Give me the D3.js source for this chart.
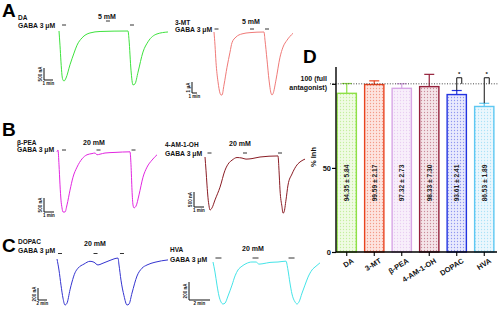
<!DOCTYPE html>
<html><head><meta charset="utf-8">
<script src="https://cdn.jsdelivr.net/npm/d3@7"></script>
<style>body{margin:0;background:#fff} svg{display:block} text{font-family:"Liberation Sans",Arial,sans-serif;fill:#111}</style>
</head><body><svg id="c" width="500" height="310"></svg>
<script>
// ---------- DATA ----------
const compounds = ["DA","3-MT","β-PEA","4-AM-1-OH","DOPAC","HVA"];
const inhMean = [94.35, 99.59, 97.32, 98.33, 93.61, 86.53];
const inhSD   = [5.84, 2.17, 2.73, 7.30, 2.41, 1.89];
const significant = [false,false,false,false,true,true];
const yTicks = [0, 50, 100];
const concLabels = ["5 mM","5 mM","20 mM","20 mM","20 mM","20 mM"];
const scaleBarLabels = ["500 nA","1 μA","500 nA","500 nA","200 nA","200 nA"];
const scaleBarMin = [1,1,1,1,2,2];
// application marks (time, min): GABA on, compound, GABA on
const applyT = [[0.56,5.44,8.11],[0.5,7.6,10.6],[0.7,4.15,7.65],[0.45,4.0,7.5],[0.67,8.56,14.44],[0.52,4.05,7.48]];

// traces: time (min) and current (normalised to first GABA peak)
const tDA = [0,0.11,0.22,0.33,0.44,0.56,0.78,1.22,1.67,2.0,2.56,3.44,4.56,7.67,7.78,8.0,8.22,8.44,8.78,9.33,9.89,10.89,12.11];
const iDA = [0,-0.29,-0.63,-0.90,-1.0,-1.02,-0.96,-0.69,-0.45,-0.29,-0.14,-0.04,-0.01,0,-0.18,-0.80,-1.10,-1.08,-0.84,-0.43,-0.22,-0.06,-0.02];
const tMT = [0,0.2,0.4,0.8,1.2,1.4,1.6,2.0,2.6,3.2,3.6,4.4,5.6,7.2,10.0,10.2,10.6,11.0,11.4,11.6,11.8,12.4,13.2,13.8,14.6,15.8];
const iMT = [0,-0.21,-0.48,-0.79,-0.97,-1.0,-1.0,-0.84,-0.56,-0.32,-0.17,-0.08,-0.03,-0.01,0,-0.13,-0.44,-0.76,-0.97,-1.0,-0.98,-0.76,-0.40,-0.24,-0.13,-0.02];
const tPEA = [0,0.1,0.2,0.3,0.4,0.5,0.6,0.8,1.0,1.3,1.6,2.0,2.5,3.0,3.5,3.8,4.0,4.3,4.8,5.8,7.3,7.4,7.5,7.6,7.7,7.9,8.2,8.6,9.0,9.5,10.0];
const iPEA = [0.02,0.05,-0.20,-0.54,-0.80,-0.93,-1.0,-1.0,-0.88,-0.63,-0.41,-0.24,-0.10,-0.03,-0.01,0,-0.03,-0.02,0,0.01,0.02,-0.20,-0.63,-0.88,-0.93,-0.90,-0.71,-0.41,-0.24,-0.12,-0.03];
const tAM = [0,0.1,0.2,0.3,0.4,0.5,0.7,1.0,1.5,2.0,2.4,2.7,3.2,3.7,4.1,4.7,5.5,7.3,7.4,7.5,7.7,7.8,7.9,8.1,8.3,8.7,9.2,9.6,10.0];
const iAM = [0,-0.25,-0.53,-0.77,-0.92,-1.0,-0.96,-0.81,-0.57,-0.25,-0.11,-0.06,-0.01,-0.02,-0.04,-0.03,0,0.02,-0.25,-0.62,-0.94,-1.06,-1.04,-0.81,-0.53,-0.32,-0.15,-0.08,-0.04];
const tDOPAC = [0,0.44,0.89,1.33,1.78,2.22,2.89,3.33,4.0,4.67,6.0,7.33,8.22,9.11,10.0,11.78,13.56,13.78,14.22,14.89,15.56,16.0,16.67,17.78,18.89,20.0,21.78,24.67];
const iDOPAC = [0,-0.24,-0.57,-0.85,-1.0,-0.96,-0.67,-0.50,-0.30,-0.20,-0.11,-0.05,-0.07,-0.13,-0.10,-0.03,0.02,-0.13,-0.46,-0.80,-1.0,-0.98,-0.74,-0.37,-0.20,-0.13,-0.07,-0.02];
const tHVA = [0,0.19,0.38,0.57,0.76,0.95,1.14,1.43,1.81,2.10,2.38,2.76,3.14,3.71,4.10,4.38,4.76,5.43,6.19,6.95,7.14,7.33,7.52,7.81,8.0,8.19,8.48,8.76,9.05,9.43,9.81,10.19];
const iHVA = [0,-0.24,-0.55,-0.81,-0.95,-1.0,-0.98,-0.81,-0.55,-0.33,-0.19,-0.10,-0.04,0,0,-0.05,-0.04,-0.01,0,0.02,-0.19,-0.50,-0.76,-0.95,-1.0,-0.95,-0.74,-0.55,-0.36,-0.19,-0.10,-0.02];

const traceT = [tDA,tMT,tPEA,tAM,tDOPAC,tHVA];
const traceI = [iDA,iMT,iPEA,iAM,iDOPAC,iHVA];

// ---------- LAYOUT / STYLE ----------
const traceColors = ["#3de23d","#f07a78","#e226e0","#8a1c24","#3434d0","#44e4e8"];
const barStroke = ["#8ee046","#e8431f","#d8a6e6","#94203a","#2233e0","#5ec8f2"];
const barFill   = ["#f0fbe4","#fde4df","#f8effb","#f5e5e9","#e9eafd","#ebf7fd"];
const INK = "#111";

const panels = [
  {x0:59,  ppm:9,   yb:31,  yp:80,  drug:[18,20], gaba:[18,27.5], conc:[107,19], concDash:21, dashY:25, dw:4, sb:[44,80,12], sbT:85},
  {x0:214, ppm:5,   yb:32,  yp:95,  drug:[175,25], gaba:[175,31.5], conc:[251,24], concDash:29, dashY:29, dw:4, sb:[192,93,11], sbT:97.5},
  {x0:57,  ppm:10,  yb:153, yp:212, drug:[17,145], gaba:[17,151.5], conc:[94,145], concDash:150, dashY:150, dw:4, sb:[44,212,14], sbT:216.5},
  {x0:205, ppm:10,  yb:157, yp:210, drug:[165,147], gaba:[165,156], conc:[240,146], concDash:153, dashY:153, dw:4, sb:[194,207,15], sbT:211.5},
  {x0:57,  ppm:4.5, yb:259, yp:305, drug:[18,244], gaba:[18,253], conc:[95,246], concDash:253.5, dashY:253.5, dw:4, sb:[38,300,12], sbT:305},
  {x0:213, ppm:10.5,yb:262, yp:304, drug:[170,252], gaba:[170,262], conc:[253,251], concDash:258, dashY:258, dw:6, sb:[189,300,18], sbT:305}
];

const svg = d3.select("#c");
svg.append("rect").attr("width",500).attr("height",310).attr("fill","#fff");

function txt(g, x, y, s, size, anchor){
  return g.append("text").attr("x",x).attr("y",y).attr("font-size",size).attr("font-weight","bold")
    .attr("text-anchor",anchor||"start").style("fill",INK).text(s);
}
function centredTxt(g, cx, y, s, size){
  const t = txt(g, 0, y, s, size);
  const len = t.node().getComputedTextLength();
  t.attr("x", Math.round(cx - len/2));
  return t;
}

[["A",2,17],["B",2,136],["C",2,252],["D",303,63]].forEach(([t,x,y])=>{
  txt(svg,x,y,t,19).style("fill","#000");
});

// ---------- TRACES ----------
panels.forEach((p,k)=>{
  const x = d3.scaleLinear().domain([0,1]).range([p.x0, p.x0+p.ppm]);
  const y = d3.scaleLinear().domain([0,-1]).range([p.yb, p.yp]);
  const g = svg.append("g");
  const pts = traceT[k].map((t,j)=>[t, traceI[k][j]]);
  g.append("path").datum(pts)
    .attr("d", d3.line().x(d=>x(d[0])).y(d=>y(d[1])).curve(d3.curveMonotoneX))
    .attr("fill","none").attr("stroke",traceColors[k]).attr("stroke-width",1);
  txt(g,p.drug[0],p.drug[1],compounds[k],6.5);
  txt(g,p.gaba[0],p.gaba[1],"GABA 3 μM",6.8);
  centredTxt(g,p.conc[0],p.conc[1],concLabels[k],7);
  applyT[k].forEach((t,j)=>{
    const yy = j===1 ? p.concDash : p.dashY;
    g.append("line").attr("x1",x(t)-p.dw/2).attr("x2",x(t)+p.dw/2).attr("y1",yy).attr("y2",yy)
      .attr("stroke","#333").attr("stroke-width",1);
  });
  const [sx,sy,sh] = p.sb;
  const w = x(scaleBarMin[k]) - x(0);
  g.append("path").attr("d",`M${sx},${sy-sh}V${sy}H${sx+w}`).attr("fill","none").attr("stroke","#111").attr("stroke-width",1);
  g.append("text").attr("transform",`translate(${sx-2},${sy-sh/2}) rotate(-90)`).attr("text-anchor","middle")
    .attr("font-size",4.5).attr("font-weight","bold").style("fill",INK).text(scaleBarLabels[k]);
  txt(g,sx+w/2,p.sbT,scaleBarMin[k]+" min",4.5,"middle");
});

// ---------- BAR CHART D ----------
const defs = svg.append("defs");
compounds.forEach((c,i)=>{
  const pat = defs.append("pattern").attr("id","pat"+i).attr("width",3).attr("height",3).attr("patternUnits","userSpaceOnUse");
  pat.append("rect").attr("width",3).attr("height",3).attr("fill",barFill[i]);
  pat.append("circle").attr("cx",1.5).attr("cy",1.5).attr("r",0.65).attr("fill",barStroke[i]).attr("opacity",0.45);
});

const xb = d3.scaleBand().domain(compounds).range([333,498]).paddingInner(0.3).paddingOuter(0.15);
const yb = d3.scaleLinear().domain([0,110]).range([252,67]);
const gD = svg.append("g");

compounds.forEach((c,i)=>{
  const bx = xb(c), bw = xb.bandwidth(), cx = bx+bw/2;
  const top = yb(inhMean[i]+inhSD[i]);
  gD.append("line").attr("x1",cx).attr("x2",cx).attr("y1",yb(inhMean[i])).attr("y2",top).attr("stroke",barStroke[i]).attr("stroke-width",1.2);
  gD.append("line").attr("x1",cx-5).attr("x2",cx+5).attr("y1",top).attr("y2",top).attr("stroke",barStroke[i]).attr("stroke-width",1.2);
  gD.append("rect").attr("x",bx).attr("y",yb(inhMean[i])).attr("width",bw).attr("height",yb(0)-yb(inhMean[i]))
    .attr("fill",`url(#pat${i})`).attr("stroke",barStroke[i]).attr("stroke-width",1.4);
  gD.append("text").attr("transform",`translate(${cx+2.3},183) rotate(-90)`).attr("text-anchor","middle")
    .attr("font-size",6.6).attr("font-weight","bold").style("fill","#222")
    .text(inhMean[i].toFixed(2)+" ± "+inhSD[i].toFixed(2));
  if(significant[i]){
    gD.append("path").attr("d",`M${cx},${top}V${yb(103.6)}H${cx+5}V${yb(100)}`)
      .attr("fill","none").attr("stroke","#111").attr("stroke-width",1);
    txt(gD,cx+2.5,yb(104.5),"*",6,"middle");
  }
});

gD.append("line").attr("x1",330).attr("x2",499).attr("y1",yb(100)).attr("y2",yb(100))
  .attr("stroke","#333").attr("stroke-width",0.9).attr("stroke-dasharray","1,1.6");

const yAxis = d3.axisLeft(yb).tickValues(yTicks).tickSize(4).tickFormat(d=> d===100 ? "" : d);
const ga = gD.append("g").attr("transform","translate(336,0)").call(yAxis);
ga.select(".domain").attr("d","M0,67V252").attr("stroke","#000").attr("stroke-width",1.4);
ga.selectAll(".tick line").attr("stroke","#000").attr("stroke-width",1.2);
ga.selectAll(".tick text").attr("font-size",7.5).attr("font-weight","bold").style("fill",INK).attr("x",-5)
  .style("font-family",'"Liberation Sans",Arial,sans-serif');

txt(gD,327,81,"100 (full",7,"end");
txt(gD,327,90,"antagonist)",7,"end");

gD.append("text").attr("transform","translate(316,157) rotate(-90)").attr("text-anchor","middle")
  .attr("font-size",7.5).attr("font-weight","bold").style("fill",INK).text("% Inh");

const xAxis = d3.axisBottom(xb).tickSize(4).tickSizeOuter(0);
const gx = gD.append("g").attr("transform","translate(0,252)").call(xAxis);
gx.select(".domain").attr("d","M336,0H497").attr("stroke","#000").attr("stroke-width",1.4);
gx.selectAll(".tick line").attr("stroke","#000").attr("stroke-width",1.1);
gx.selectAll(".tick text").attr("font-size",7.4).attr("font-weight","bold").style("fill",INK)
  .style("font-family",'"Liberation Sans",Arial,sans-serif')
  .attr("text-anchor","end").attr("transform","translate(3,3) rotate(-32)").attr("dy","0.6em").attr("y",4);
</script></body></html>
